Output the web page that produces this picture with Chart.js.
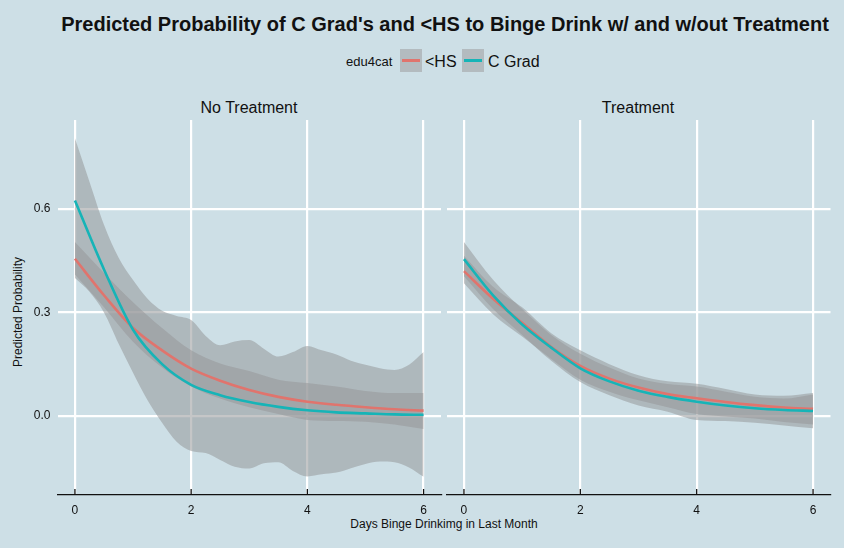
<!DOCTYPE html>
<html>
<head>
<meta charset="utf-8">
<script src="https://cdn.jsdelivr.net/npm/chart.js@4/dist/chart.umd.min.js"></script>
<style>
  html, body { margin: 0; padding: 0; }
  body { width: 844px; height: 548px; background: #cddfe6; position: relative; overflow: hidden;
         font-family: 'Liberation Sans', Arial, sans-serif; color: #111; }
  canvas { position: absolute; left: 0; top: 0; }
  .txt { position: absolute; white-space: nowrap; line-height: 1; }
  .key { position: absolute; width: 22px; height: 23px; background: #b3bbbf; }
  .key i { position: absolute; left: 2px; right: 2px; top: 10px; height: 3px; }
</style>
</head>
<body>
<div class="txt" id="title" style="left:445px; top:14px; transform:translateX(-50%); font-size:20px; font-weight:bold;">Predicted Probability of C Grad's and &lt;HS to Binge Drink w/ and w/out Treatment</div>

<div class="txt" style="left:346px; top:55px; font-size:13px;">edu4cat</div>
<div class="key" style="left:400px; top:49px;"><i style="background:#e0746d"></i></div>
<div class="txt" style="left:425px; top:54px; font-size:16px;">&lt;HS</div>
<div class="key" style="left:462px; top:49px;"><i style="background:#16b4b7"></i></div>
<div class="txt" style="left:488px; top:54px; font-size:16px;">C Grad</div>

<div class="txt" style="left:249px; top:100px; transform:translateX(-50%); font-size:16px;">No Treatment</div>
<div class="txt" style="left:638px; top:100px; transform:translateX(-50%); font-size:16px;">Treatment</div>

<div class="txt" style="left:18px; top:312px; transform:translate(-50%,-50%) rotate(-90deg); font-size:12px;">Predicted Probability</div>
<div class="txt" style="left:444px; top:518px; transform:translateX(-50%); font-size:12px;">Days Binge Drinkimg in Last Month</div>

<canvas id="left" width="844" height="548"></canvas>
<canvas id="right" width="844" height="548"></canvas>

<script>
// days binge drinking (x) for the fitted curves and ribbons
const xLine = [0, 0.5, 1, 1.5, 2, 2.5, 3, 3.5, 4, 4.5, 5, 5.5, 6];
const xFine = [0, 0.25, 0.5, 0.75, 1, 1.25, 1.5, 1.75, 2, 2.25, 2.5, 2.75, 3,
               3.25, 3.5, 3.75, 4, 4.25, 4.5, 4.75, 5, 5.25, 5.5, 5.75, 6];

const xTicks = [0, 2, 4, 6];
const yTicks = [0, 0.3, 0.6];

// No Treatment panel
const hsNoTreat      = [0.456, 0.35, 0.255, 0.19, 0.137, 0.102, 0.075, 0.055, 0.041, 0.032, 0.025, 0.019, 0.015];
const hsNoTreatHi    = [0.505, 0.415, 0.33, 0.255, 0.19, 0.152, 0.13, 0.105, 0.095, 0.085, 0.072, 0.066, 0.066];
const hsNoTreatLo    = [0.41, 0.315, 0.215, 0.14, 0.085, 0.05, 0.025, 0.005, -0.012, -0.015, -0.017, -0.025, -0.038];
const cgNoTreat      = [0.625, 0.425, 0.25, 0.15, 0.09, 0.06, 0.04, 0.026, 0.016, 0.01, 0.007, 0.004, 0.003];
const cgNoTreatHi    = [0.806, 0.68, 0.555, 0.46, 0.394, 0.34, 0.305, 0.29, 0.278, 0.232, 0.205, 0.216, 0.22,
                        0.195, 0.172, 0.185, 0.203, 0.19, 0.178, 0.16, 0.148, 0.138, 0.133, 0.148, 0.185];
const cgNoTreatLo    = [0.40, 0.36, 0.30, 0.21, 0.125, 0.045, -0.02, -0.075, -0.102, -0.108, -0.128, -0.148, -0.153,
                        -0.138, -0.135, -0.16, -0.176, -0.17, -0.165, -0.152, -0.14, -0.133, -0.135, -0.15, -0.177];

// Treatment panel
const hsTreat        = [0.42, 0.34, 0.27, 0.2, 0.145, 0.108, 0.082, 0.063, 0.051, 0.04, 0.031, 0.024, 0.02];
const hsTreatHi      = [0.465, 0.375, 0.315, 0.24, 0.19, 0.15, 0.118, 0.1, 0.093, 0.078, 0.062, 0.058, 0.066];
const hsTreatLo      = [0.385, 0.295, 0.23, 0.165, 0.105, 0.07, 0.045, 0.025, 0.005, -0.002, -0.008, -0.018, -0.025];
const cgTreat        = [0.455, 0.35, 0.265, 0.198, 0.138, 0.1, 0.073, 0.055, 0.041, 0.03, 0.022, 0.017, 0.014];
const cgTreatHi      = [0.505, 0.395, 0.31, 0.235, 0.18, 0.14, 0.108, 0.092, 0.085, 0.07, 0.055, 0.05, 0.062];
const cgTreatLo      = [0.405, 0.31, 0.235, 0.16, 0.098, 0.06, 0.03, 0.012, -0.012, -0.015, -0.02, -0.028, -0.036];

const RED = '#e0746d';
const TEAL = '#16b4b7';
const RIBBON = 'rgba(150,152,153,0.55)';

Chart.defaults.font.family = "'Liberation Sans', Arial, sans-serif";
Chart.defaults.font.size = 12;
Chart.defaults.color = '#111';

const pts = (xs, ys) => xs.map((x, i) => ({ x: x, y: ys[i] }));

function lineSet(xs, ys, color) {
  return { data: pts(xs, ys), borderColor: color, borderWidth: 2.6, pointRadius: 0,
           fill: false, cubicInterpolationMode: 'monotone' };
}
function ribbonSet(xs, ys, fillTo) {
  return { data: pts(xs, ys), borderWidth: 0, borderColor: 'rgba(0,0,0,0)', pointRadius: 0,
           backgroundColor: RIBBON, fill: fillTo, cubicInterpolationMode: 'monotone' };
}

// short inward tick marks on the x axis, as in the ggplot theme
const innerTicks = {
  id: 'innerTicks',
  afterDatasetsDraw(chart) {
    const { ctx, chartArea } = chart;
    const sx = chart.scales.x;
    ctx.save();
    ctx.strokeStyle = '#111';
    ctx.lineWidth = 1.3;
    xTicks.forEach(v => {
      const px = sx.getPixelForValue(v);
      ctx.beginPath();
      ctx.moveTo(px, chartArea.bottom - 6);
      ctx.lineTo(px, chartArea.bottom);
      ctx.stroke();
    });
    ctx.restore();
  }
};

function makePanel(id, datasets, showY, padding) {
  return new Chart(document.getElementById(id), {
    type: 'line',
    data: { datasets: datasets },
    options: {
      responsive: false,
      animation: false,
      events: [],
      layout: { padding: padding },
      plugins: { legend: { display: false }, tooltip: { enabled: false } },
      scales: {
        x: {
          type: 'linear', min: -0.3, max: 6.3,
          afterBuildTicks: s => { s.ticks = xTicks.map(v => ({ value: v })); },
          afterFit: s => { s.height = 30; },
          ticks: { padding: 8, font: { size: 12 }, callback: v => String(v) },
          grid: { color: '#ffffff', lineWidth: 2.2, drawTicks: false },
          border: { display: true, color: '#111', width: 1.3 }
        },
        y: {
          type: 'linear', min: -0.23, max: 0.859,
          afterBuildTicks: s => { s.ticks = yTicks.map(v => ({ value: v })); },
          afterFit: s => { s.width = showY ? 57.5 : 0; },
          ticks: { display: showY, padding: 7, font: { size: 12 }, callback: v => v.toFixed(1) },
          grid: { color: '#ffffff', lineWidth: 2.2, drawTicks: false },
          border: { display: false }
        }
      }
    },
    plugins: [innerTicks]
  });
}

makePanel('left', [
  lineSet(xLine, cgNoTreat, TEAL),
  lineSet(xLine, hsNoTreat, RED),
  ribbonSet(xLine, hsNoTreatLo, false),
  ribbonSet(xLine, hsNoTreatHi, 2),
  ribbonSet(xFine, cgNoTreatLo, false),
  ribbonSet(xFine, cgNoTreatHi, 4)
], true, { left: 0, right: 403, top: 120, bottom: 23 });

makePanel('right', [
  lineSet(xLine, cgTreat, TEAL),
  lineSet(xLine, hsTreat, RED),
  ribbonSet(xLine, hsTreatLo, false),
  ribbonSet(xLine, hsTreatHi, 2),
  ribbonSet(xLine, cgTreatLo, false),
  ribbonSet(xLine, cgTreatHi, 4)
], false, { left: 446.5, right: 13.5, top: 120, bottom: 23 });
</script>
</body>
</html>
